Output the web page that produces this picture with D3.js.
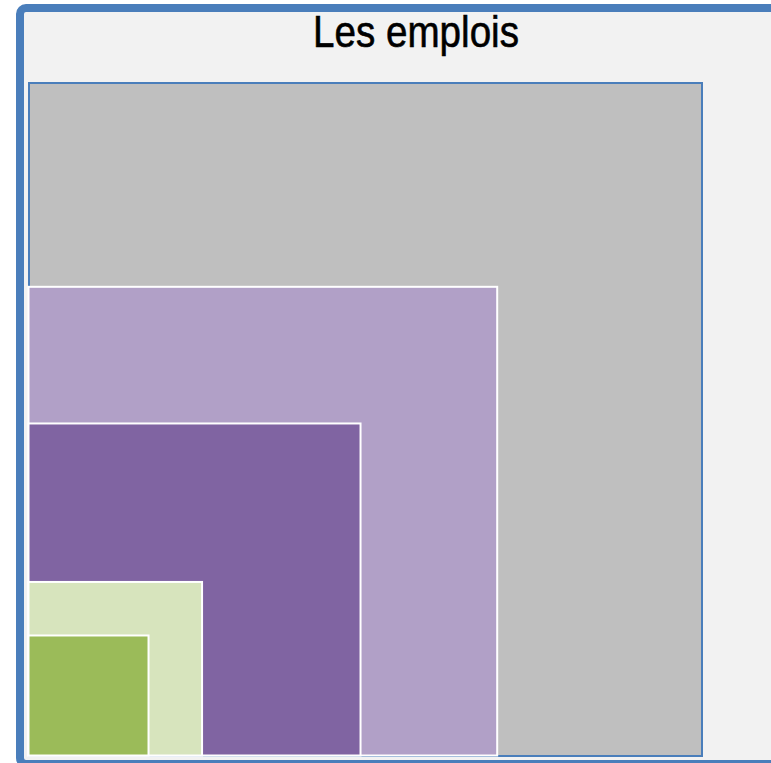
<!DOCTYPE html>
<html>
<head>
<meta charset="utf-8">
<script src="https://cdn.jsdelivr.net/npm/d3@7"></script>
<style>
  html, body { margin: 0; padding: 0; background: #ffffff; }
  svg { display: block; }
</style>
</head>
<body>
<svg id="chart" width="771" height="763"></svg>
<script>
// Data (area-proportional nested squares)
const title = "Les emplois";
const categories = ["Ensemble", "Catégorie B", "Catégorie C", "Catégorie D", "Catégorie E"];
const values = [100, 48.5, 24.34, 6.65, 3.18];
const fills = ["#bfbfbf", "#b1a0c7", "#8064a2", "#d7e4bd", "#9bbb59"];
const strokes = ["#4a7ebb", "#ffffff", "#ffffff", "#ffffff", "#ffffff"];

const svg = d3.select("#chart");

// frame
svg.append("rect")
  .attr("x", 20).attr("y", 8)
  .attr("width", 820).attr("height", 756)
  .attr("rx", 6).attr("ry", 6)
  .attr("fill", "#f2f2f2")
  .attr("stroke", "#4a7ebb")
  .attr("stroke-width", 8);

// title
svg.append("text")
  .attr("x", 416).attr("y", 46.5)
  .attr("text-anchor", "middle")
  .attr("font-family", "Liberation Sans, Arial, sans-serif")
  .attr("font-size", 44)
  .attr("textLength", 206)
  .attr("lengthAdjust", "spacingAndGlyphs")
  .attr("fill", "#000000")
  .attr("stroke", "#000000")
  .attr("stroke-width", 0.6)
  .text(title);

// sqrt scale: value -> side length
const side = d3.scaleSqrt().domain([0, d3.max(values)]).range([0, 673]);
const x0 = 29, yBottom = 756;

const data = categories.map((c, i) => ({ name: c, value: values[i], fill: fills[i], stroke: strokes[i], i }));

svg.append("g").selectAll("rect")
  .data(data)
  .join("rect")
  .attr("x", d => d.i === 0 ? x0 : x0 - 0.5)
  .attr("y", d => yBottom - side(d.value) - (d.i === 0 ? 0 : 0.5))
  .attr("width", d => side(d.value))
  .attr("height", d => side(d.value))
  .attr("fill", d => d.fill)
  .attr("stroke", d => d.stroke)
  .attr("stroke-width", 2)
  .append("title").text(d => `${d.name}: ${d.value}`);
</script>
</body>
</html>
